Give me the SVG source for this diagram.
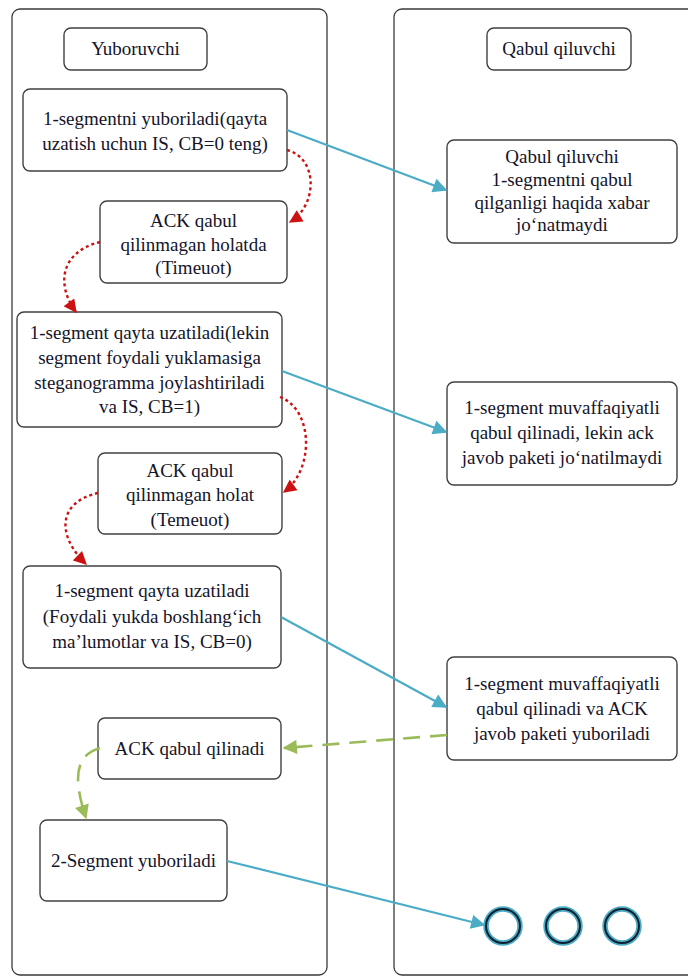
<svg xmlns="http://www.w3.org/2000/svg" width="688" height="977" viewBox="0 0 688 977">
<defs>
<style>
.lane{fill:#fff;stroke:#3a3a3a;stroke-width:1.3}
.box{fill:#fff;stroke:#404040;stroke-width:1.4}
.t{font-size:19px;fill:#14142a;text-anchor:middle}
.blue{fill:none;stroke:#4bacc6;stroke-width:2.2}
.red{fill:none;stroke:#cc1111;stroke-width:2.4;stroke-dasharray:3 3}
.green{fill:none;stroke:#9bbb59;stroke-width:2.6;stroke-dasharray:17 10}
</style>
<marker id="ab" viewBox="0 0 10 10" refX="9" refY="5" markerWidth="7.5" markerHeight="6.5" orient="auto" markerUnits="strokeWidth"><path d="M0,0 L10,5 L0,10 z" fill="#4bacc6"/></marker>
<marker id="ar" viewBox="0 0 10 10" refX="9" refY="5" markerWidth="6" markerHeight="5.5" orient="auto" markerUnits="strokeWidth"><path d="M0,0 L10,5 L0,10 z" fill="#cc1111"/></marker>
<marker id="ag" viewBox="0 0 10 10" refX="9" refY="5" markerWidth="6" markerHeight="5.5" orient="auto" markerUnits="strokeWidth"><path d="M0,0 L10,5 L0,10 z" fill="#9bbb59"/></marker>
</defs>
<g id="lane-sender"><rect class="lane" x="12" y="9" width="315" height="966" rx="8"/></g>
<g id="lane-receiver"><rect class="lane" x="394" y="9" width="310" height="966" rx="8"/></g>

<g id="title-sender"><rect class="box" x="64" y="28" width="143" height="42" rx="7"/><text class="t" font-family="Liberation Serif" x="135.5" y="55">Yuboruvchi</text></g>
<g id="title-receiver"><rect class="box" x="487" y="28" width="144" height="42" rx="7"/><text class="t" font-family="Liberation Serif" x="559" y="55">Qabul qiluvchi</text></g>

<g id="s1"><rect class="box" x="23" y="89" width="264" height="82" rx="7"/><text class="t" font-family="Liberation Serif" x="155" y="125">1-segmentni yuboriladi(qayta</text><text class="t" font-family="Liberation Serif" x="155" y="150">uzatish uchun IS, CB=0 teng)</text></g>
<g id="s2"><rect class="box" x="100" y="201" width="187" height="82" rx="7"/><text class="t" font-family="Liberation Serif" x="193.5" y="227">ACK qabul</text><text class="t" font-family="Liberation Serif" x="193.5" y="251">qilinmagan holatda</text><text class="t" font-family="Liberation Serif" x="193.5" y="274">(Timeuot)</text></g>
<g id="s3"><rect class="box" x="17" y="312" width="265" height="115" rx="7"/><text class="t" font-family="Liberation Serif" x="149.5" y="339">1-segment qayta uzatiladi(lekin</text><text class="t" font-family="Liberation Serif" x="149.5" y="364">segment foydali yuklamasiga</text><text class="t" font-family="Liberation Serif" x="149.5" y="389">steganogramma joylashtiriladi</text><text class="t" font-family="Liberation Serif" x="149.5" y="413">va IS, CB=1)</text></g>
<g id="s4"><rect class="box" x="98" y="453" width="184" height="81" rx="7"/><text class="t" font-family="Liberation Serif" x="190" y="477">ACK qabul</text><text class="t" font-family="Liberation Serif" x="190" y="501">qilinmagan holat</text><text class="t" font-family="Liberation Serif" x="190" y="526">(Temeuot)</text></g>
<g id="s5"><rect class="box" x="23" y="566" width="258" height="102" rx="7"/><text class="t" font-family="Liberation Serif" x="152" y="597">1-segment qayta uzatiladi</text><text class="t" font-family="Liberation Serif" x="152" y="623">(Foydali yukda boshlang‘ich</text><text class="t" font-family="Liberation Serif" x="152" y="648">ma’lumotlar va IS, CB=0)</text></g>
<g id="s6"><rect class="box" x="98" y="718" width="183" height="61" rx="7"/><text class="t" font-family="Liberation Serif" x="189.5" y="755">ACK qabul qilinadi</text></g>
<g id="s7"><rect class="box" x="40" y="820" width="187" height="81" rx="7"/><text class="t" font-family="Liberation Serif" x="133.5" y="867">2-Segment yuboriladi</text></g>

<g id="r1"><rect class="box" x="447" y="140" width="230" height="103" rx="7"/><text class="t" font-family="Liberation Serif" x="562" y="163">Qabul qiluvchi</text><text class="t" font-family="Liberation Serif" x="562" y="186">1-segmentni qabul</text><text class="t" font-family="Liberation Serif" x="562" y="209">qilganligi haqida xabar</text><text class="t" font-family="Liberation Serif" x="562" y="231">jo‘natmaydi</text></g>
<g id="r2"><rect class="box" x="447" y="382" width="230" height="103" rx="7"/><text class="t" font-family="Liberation Serif" x="562" y="414">1-segment muvaffaqiyatli</text><text class="t" font-family="Liberation Serif" x="562" y="439">qabul qilinadi, lekin ack</text><text class="t" font-family="Liberation Serif" x="562" y="464">javob paketi jo‘natilmaydi</text></g>
<g id="r3"><rect class="box" x="447" y="657" width="230" height="103" rx="7"/><text class="t" font-family="Liberation Serif" x="562" y="690">1-segment muvaffaqiyatli</text><text class="t" font-family="Liberation Serif" x="562" y="715">qabul qilinadi va ACK</text><text class="t" font-family="Liberation Serif" x="562" y="740">javob paketi yuboriladi</text></g>

<g id="dots">
<circle cx="503" cy="926" r="17" fill="#fff" stroke="#4bacc6" stroke-width="5.5"/><circle cx="503" cy="926" r="17" fill="none" stroke="#102030" stroke-width="2"/>
<circle cx="563" cy="926" r="17" fill="#fff" stroke="#4bacc6" stroke-width="5.5"/><circle cx="563" cy="926" r="17" fill="none" stroke="#102030" stroke-width="2"/>
<circle cx="622" cy="926" r="17" fill="#fff" stroke="#4bacc6" stroke-width="5.5"/><circle cx="622" cy="926" r="17" fill="none" stroke="#102030" stroke-width="2"/>
</g>

<g id="connectors">
<path class="blue" d="M287,130 L446,190" marker-end="url(#ab)"/>
<path class="blue" d="M282,371 L446,432" marker-end="url(#ab)"/>
<path class="blue" d="M281,617 L446,707" marker-end="url(#ab)"/>
<path class="blue" d="M227,861 L484,925" marker-end="url(#ab)"/>
<path class="red" d="M287,150 C318,158 318,205 290,222" marker-end="url(#ar)"/>
<path class="red" d="M100,242 C60,252 56,285 76,312" marker-end="url(#ar)"/>
<path class="red" d="M280,397 C314,410 314,470 284,492" marker-end="url(#ar)"/>
<path class="red" d="M98,493 C58,502 56,535 86,564" marker-end="url(#ar)"/>
<path class="green" d="M447,735 L284,748" marker-end="url(#ag)"/>
<path class="green" d="M100,748 C80,754 70,770 86,818" marker-end="url(#ag)"/>
</g>
</svg>
